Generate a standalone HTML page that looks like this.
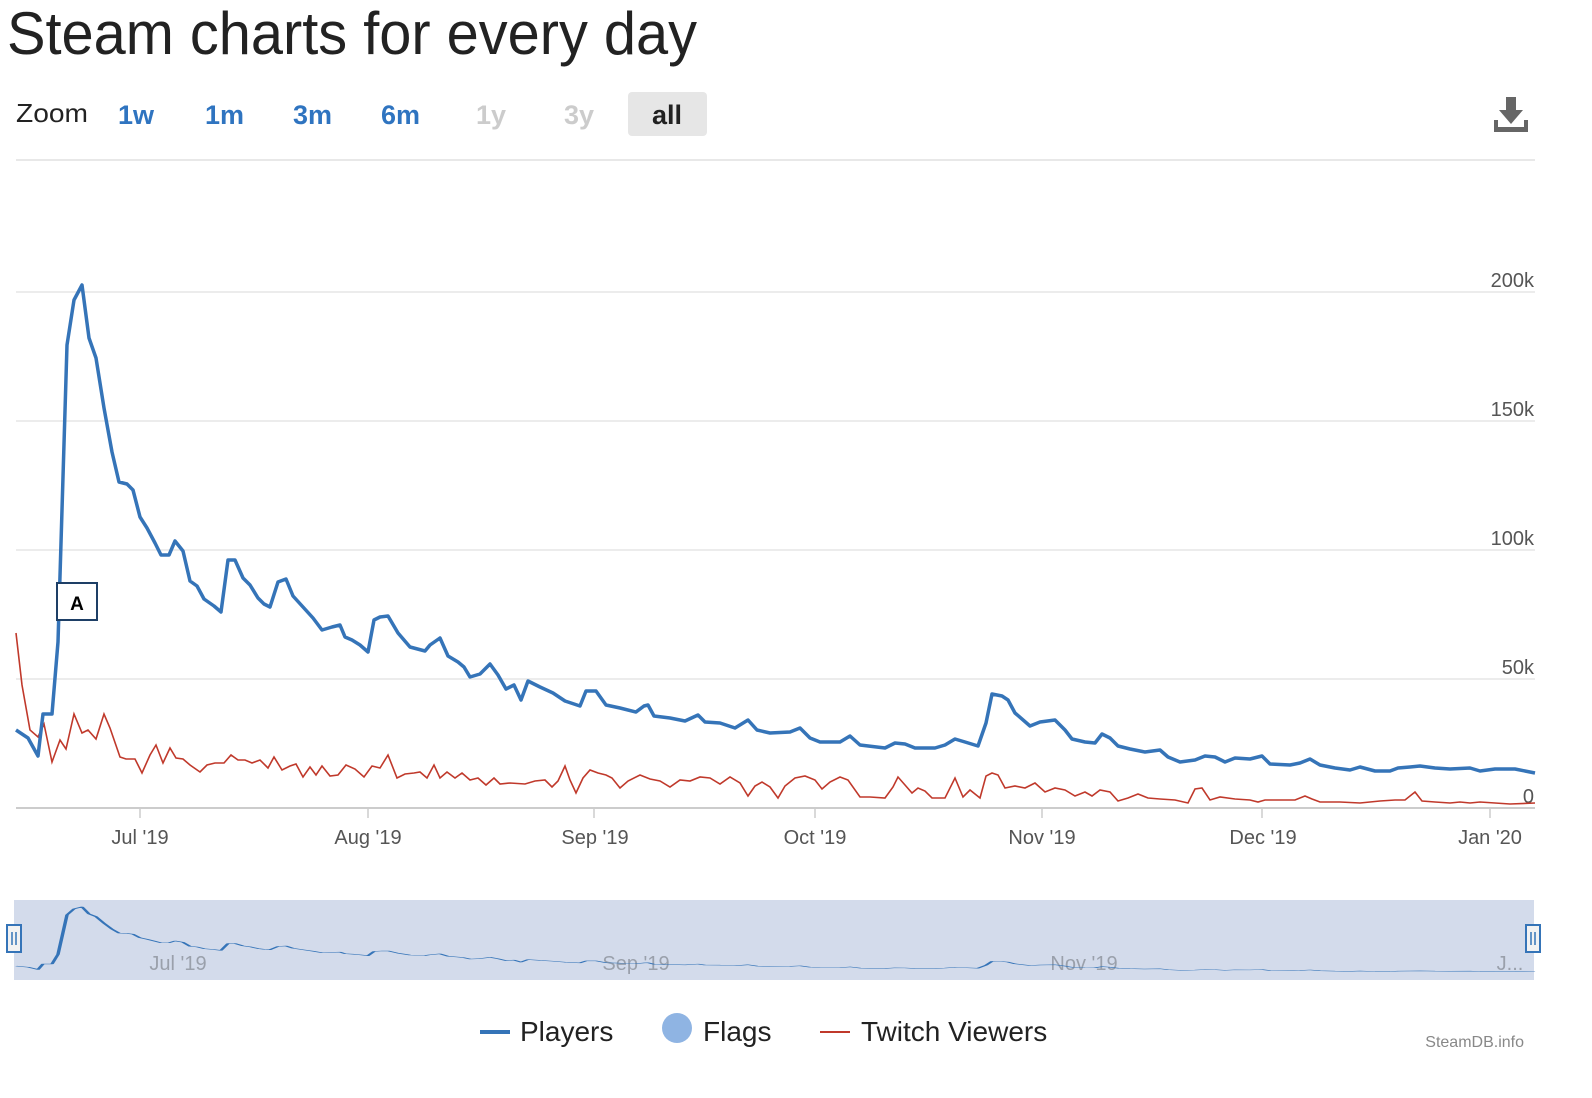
<!DOCTYPE html>
<html><head><meta charset="utf-8"><style>
html,body{margin:0;padding:0;background:#fff;width:1592px;height:1098px;overflow:hidden}
svg{display:block}
text{font-family:"Liberation Sans",sans-serif}
</style></head><body>
<svg width="1592" height="1098" viewBox="0 0 1592 1098" xmlns="http://www.w3.org/2000/svg">
<text x="7" y="54" font-size="60" fill="#222" textLength="690" lengthAdjust="spacingAndGlyphs">Steam charts for every day</text>
<text x="16" y="122" font-size="26" fill="#222" textLength="72" lengthAdjust="spacingAndGlyphs">Zoom</text>
<g font-size="27" font-weight="bold" fill="#2f74c0">
<text x="118" y="124">1w</text><text x="205" y="124">1m</text><text x="293" y="124">3m</text><text x="381" y="124">6m</text>
<text x="476" y="124" fill="#ccc">1y</text><text x="564" y="124" fill="#ccc">3y</text></g>
<rect x="628" y="92" width="79" height="44" rx="4" fill="#e6e6e6"/>
<text x="652" y="124" font-size="27" font-weight="bold" fill="#222">all</text>
<g fill="#666"><rect x="1494" y="120" width="34" height="12"/><rect x="1498" y="120" width="26" height="7" fill="#fff"/><rect x="1506" y="97" width="10" height="14"/><polygon points="1499,110 1523,110 1511,124"/></g>
<line x1="16" y1="160" x2="1535" y2="160" stroke="#e8e8e8" stroke-width="2"/>
<g stroke="#ececec" stroke-width="2">
<line x1="16" y1="292" x2="1535" y2="292"/><line x1="16" y1="421" x2="1535" y2="421"/><line x1="16" y1="550" x2="1535" y2="550"/><line x1="16" y1="679" x2="1535" y2="679"/></g>
<line x1="16" y1="808" x2="1535" y2="808" stroke="#ccc" stroke-width="2"/>
<g stroke="#ccc" stroke-width="1.5"><line x1="140" y1="808" x2="140" y2="818"/><line x1="368" y1="808" x2="368" y2="818"/><line x1="594" y1="808" x2="594" y2="818"/><line x1="815" y1="808" x2="815" y2="818"/><line x1="1042" y1="808" x2="1042" y2="818"/><line x1="1262" y1="808" x2="1262" y2="818"/><line x1="1490" y1="808" x2="1490" y2="818"/></g>
<g font-size="20" fill="#555" text-anchor="end">
<text x="1534" y="287">200k</text><text x="1534" y="416">150k</text><text x="1534" y="545">100k</text><text x="1534" y="674">50k</text><text x="1534" y="803">0</text></g>
<g font-size="20" fill="#555" text-anchor="middle">
<text x="140" y="844">Jul '19</text><text x="368" y="844">Aug '19</text><text x="595" y="844">Sep '19</text><text x="815" y="844">Oct '19</text><text x="1042" y="844">Nov '19</text><text x="1263" y="844">Dec '19</text><text x="1490" y="844">Jan '20</text></g>
<polyline fill="none" stroke="#c0392b" stroke-width="1.6" points="16,633 22,685 30,730 38,737 44,724 52,762 60,740 66,749 74,714 82,733 88,730 96,739 104,714 110,728 120,757 126,759 135,759 142,773 150,755 156,745 163,763 170,748 176,758 183,759 190,765 200,772 207,765 215,763 224,763 231,755 238,760 245,760 252,763 260,760 268,768 274,757 282,770 290,766 296,764 303,777 310,767 316,775 322,766 330,776 338,775 346,765 355,769 364,777 372,766 380,768 388,755 397,778 405,774 414,773 420,772 427,778 434,765 440,778 447,772 455,778 462,773 470,780 478,778 486,785 494,778 500,784 510,783 525,784 535,781 545,780 552,787 558,781 565,766 570,780 576,793 583,778 590,770 598,773 606,775 612,778 620,788 628,781 640,775 650,779 660,781 670,787 680,780 690,781 700,777 710,778 720,784 730,777 740,783 748,796 755,786 762,782 770,787 778,798 785,786 795,778 805,776 815,780 822,789 830,782 840,777 848,780 860,797 870,797 885,798 893,787 898,777 905,785 912,793 918,788 925,791 932,798 945,798 955,778 963,797 970,790 980,798 986,776 992,773 998,775 1005,788 1015,786 1025,788 1035,783 1045,792 1055,788 1065,790 1075,796 1085,792 1092,796 1100,790 1110,792 1118,801 1128,798 1138,794 1148,798 1160,799 1175,800 1188,803 1195,789 1202,788 1210,800 1220,797 1235,799 1250,800 1258,802 1265,800 1280,800 1295,800 1305,796 1312,799 1320,802 1340,802 1360,803 1380,801 1395,800 1405,800 1415,792 1422,801 1435,802 1450,803 1460,802 1470,803 1480,802 1495,803 1510,804 1535,803"/>
<polyline id="pl" fill="none" stroke="#3574b8" stroke-width="3.5" stroke-linejoin="round" points="16,730 28,738 38,756 43,714 52,714 58,642 67,345 74,300 82,285 89,338 96,358 104,408 112,452 119,482 127,484 133,490 140,517 147,528 155,543 161,555 169,555 175,541 183,551 190,581 197,586 204,599 214,606 221,612 228,560 235,560 243,578 250,585 258,598 264,604 270,607 278,582 286,579 293,596 303,607 313,618 322,630 332,627 340,625 345,637 352,640 360,645 368,652 374,620 380,617 388,616 398,633 410,647 425,651 430,645 440,638 448,656 458,662 464,667 470,677 480,674 490,664 498,675 506,689 514,685 521,700 528,681 540,687 553,693 565,701 580,706 586,691 596,691 606,705 620,708 636,712 644,706 648,705 654,716 670,718 685,721 698,715 705,722 720,723 735,728 748,720 757,730 770,733 790,732 800,728 810,738 820,742 840,742 850,736 860,745 885,748 895,743 905,744 915,748 935,748 945,745 955,739 965,742 978,746 986,723 992,694 1002,696 1008,700 1015,713 1030,726 1040,722 1055,720 1065,730 1072,739 1085,742 1095,743 1102,734 1110,738 1118,746 1130,749 1145,752 1160,750 1168,757 1180,762 1195,760 1205,756 1215,757 1225,762 1235,758 1250,759 1262,756 1270,764 1290,765 1300,763 1310,759 1320,765 1335,768 1350,770 1360,767 1375,771 1390,771 1398,768 1410,767 1420,766 1435,768 1450,769 1470,768 1480,771 1495,769 1515,769 1535,773"/>
<rect x="57" y="583" width="40" height="37" fill="#fff" stroke="#1e3f66" stroke-width="2"/>
<text x="77" y="610" font-size="19" font-weight="bold" text-anchor="middle" fill="#000">A</text>
<rect x="14" y="900" width="1520" height="80" fill="#d3dbeb"/>
<g font-size="20" fill="#9aa0ab" text-anchor="middle"><text x="178" y="970">Jul '19</text><text x="636" y="970">Sep '19</text><text x="1084" y="970">Nov '19</text><text x="1510" y="970">J...</text></g>
<use href="#pl" transform="translate(0,869) scale(1,0.133)" style="stroke-width:2.2" vector-effect="non-scaling-stroke"/>
<rect x="7" y="925" width="14" height="27" fill="#f2f2f2" stroke="#3574b8" stroke-width="2"/>
<rect x="1526" y="925" width="14" height="27" fill="#f2f2f2" stroke="#3574b8" stroke-width="2"/>
<g stroke="#3574b8" stroke-width="1.5"><line x1="12" y1="932" x2="12" y2="945"/><line x1="16" y1="932" x2="16" y2="945"/><line x1="1531" y1="932" x2="1531" y2="945"/><line x1="1535" y1="932" x2="1535" y2="945"/></g>
<line x1="480" y1="1032" x2="510" y2="1032" stroke="#3574b8" stroke-width="4"/>
<text x="520" y="1041" font-size="28" fill="#222">Players</text>
<circle cx="677" cy="1028" r="15" fill="#8fb4e3"/>
<text x="703" y="1041" font-size="28" fill="#222">Flags</text>
<line x1="820" y1="1032" x2="850" y2="1032" stroke="#c0392b" stroke-width="2"/>
<text x="861" y="1041" font-size="28" fill="#222">Twitch Viewers</text>
<text x="1524" y="1047" font-size="16" fill="#888" text-anchor="end">SteamDB.info</text>
</svg>
</body></html>
